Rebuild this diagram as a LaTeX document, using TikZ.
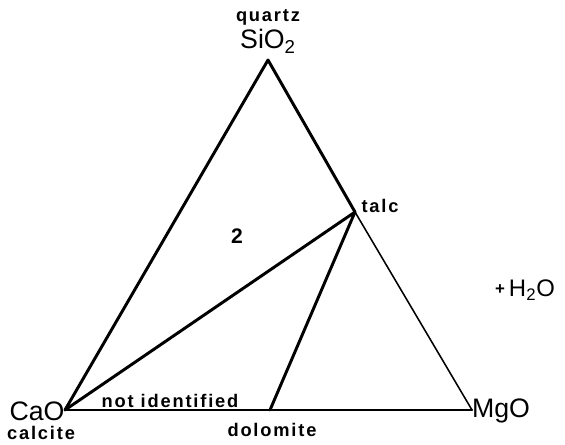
\documentclass[tikz,border=0pt]{standalone}
\usepackage{fontspec}
\setmainfont{Liberation Sans}
\usepackage{tikz}
\usetikzlibrary{positioning}

\begin{document}
\begin{tikzpicture}[
  x=0.025cm, y=-0.025cm,
  every node/.style={font=\fontsize{19}{21}\selectfont, inner sep=1pt},
  small/.style={font=\fontsize{13}{14}\selectfont\bfseries\addfontfeature{LetterSpace=10}},
  bold/.style={line width=2.1pt, line cap=round, line join=round},
  thin/.style={line width=1.1pt, line cap=round},
]
\useasboundingbox (0,0) rectangle (565,445);

% Corners of the triangle
\coordinate (sio2) at (268,60);
\coordinate (cao) at (65,410);
\coordinate (mgo) at (472,410);
\coordinate (talc) at (355,212);
\coordinate (dolo) at (270,410);

% Components
\node (sio2lbl) at (268,41) {SiO\textsubscript{2}};
\node[small] (quartz) at (268,17) {quartz};
\node (caolbl) at (37,411) {CaO};
\node[small] (calcite) at (41,433) {calcite};
\node (mgolbl) at (501,411) {MgO};
\node[small] (talclbl) at (380,206) {talc};
\node[small] (dololbl) at (272,430) {dolomite};
\node[small] (notid) at (170,401) {not identified};
\node[small, font=\fontsize{15}{15}\selectfont\bfseries] (two) at (237,236) {2};
\node (water) at (525,290) {\fontsize{17}{17}\selectfont\raisebox{0.08em}{\fontsize{12}{12}\selectfont\bfseries+}\,H\textsubscript{2}O};

% Tie lines
\draw[bold] (cao) -- (sio2) -- (talc);
\draw[bold] (cao) -- (talc) -- (dolo);
\draw[thin] (talc) -- (mgo);
\draw[thin, line width=1.6pt] (cao) -- (mgo);

\end{tikzpicture}
\end{document}
